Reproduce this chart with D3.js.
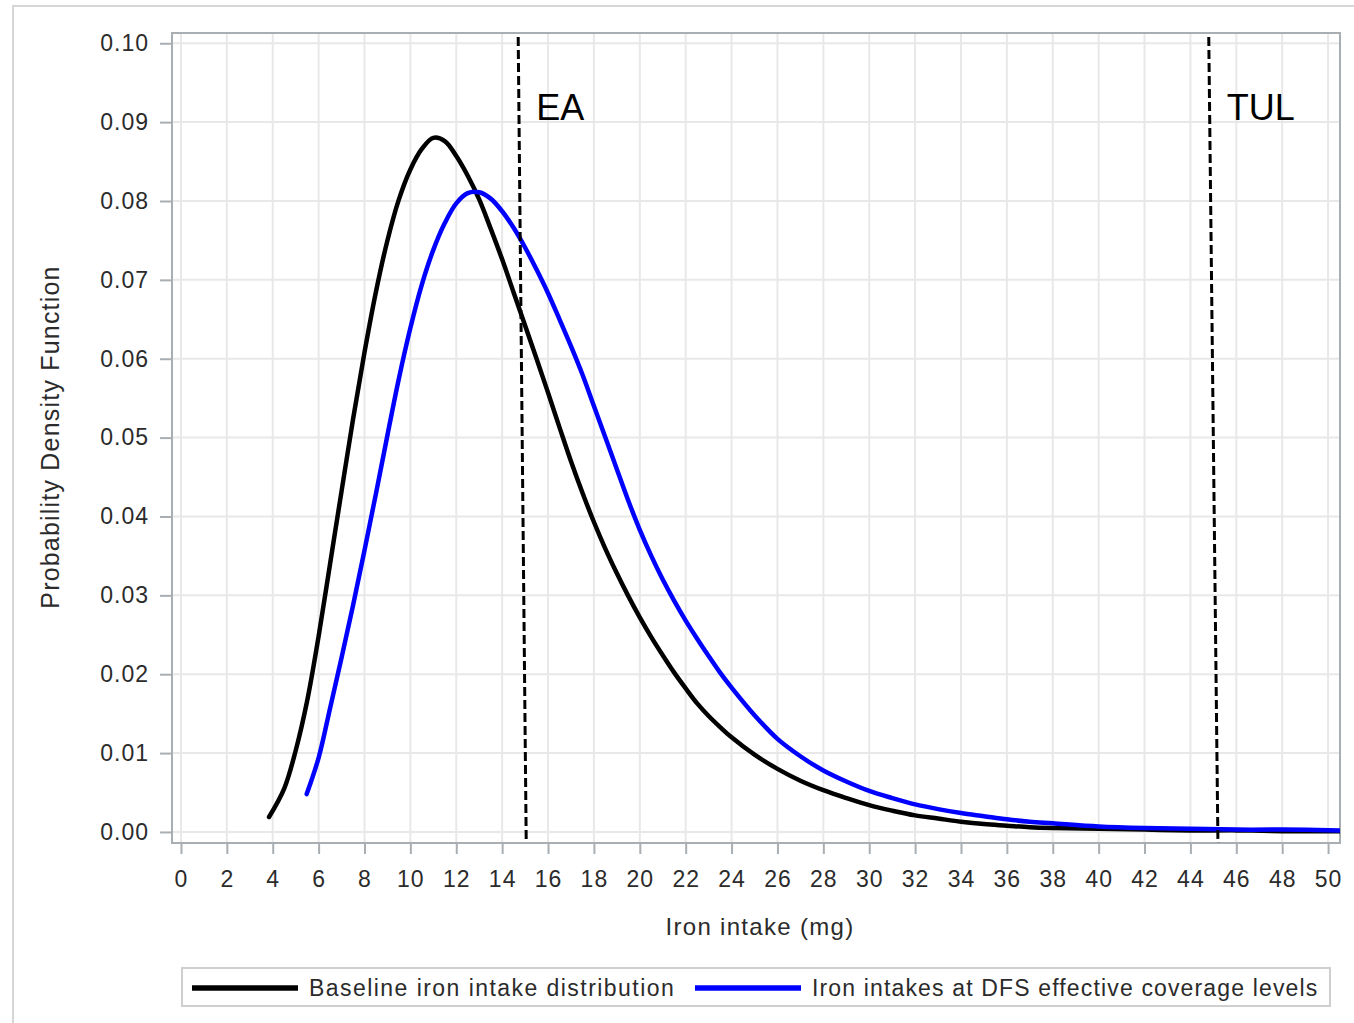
<!DOCTYPE html>
<html>
<head>
<meta charset="utf-8">
<style>
  body { margin: 0; background: #fff; }
  svg text { font-family: "Liberation Sans", Arial, sans-serif; fill: #2b2b2b; }
</style>
</head>
<body>
<div class="chart"></div>
<script src="https://d3js.org/d3.v7.min.js"></script>
<script>
  // 讀圖估的數值 (每 0.5 mg 讀一次，尾巴讀疏一點)
  const baselineX = [3.84, 4.5, 5, 5.5, 6, 6.5, 7, 7.5, 8, 8.5, 9, 9.5, 10, 10.5, 11, 11.5, 12, 12.5, 13, 13.5, 14, 14.5, 15, 15.5, 16, 16.5, 17, 17.5, 18, 18.5, 19, 19.5, 20, 20.5, 21, 21.5, 22, 22.5, 23, 23.5, 24, 25, 26, 27, 28, 29, 30, 31, 32, 33, 34, 35, 36, 37, 38, 40, 42, 44, 46, 48, 50.5]
  const baselineY = [0.0019, 0.0055, 0.0103, 0.0166, 0.0248, 0.0340, 0.0432, 0.0523, 0.0608, 0.0685, 0.0750, 0.0802, 0.0840, 0.0866, 0.0880, 0.0876, 0.0857, 0.0832, 0.0802, 0.0765, 0.0726, 0.0684, 0.0642, 0.0600, 0.0557, 0.0513, 0.0470, 0.0430, 0.0393, 0.0359, 0.0328, 0.0299, 0.0272, 0.0247, 0.0224, 0.0202, 0.0182, 0.0163, 0.0147, 0.0133, 0.0120, 0.0098, 0.0080, 0.0065, 0.0053, 0.0043, 0.0034, 0.0027, 0.0021, 0.0017, 0.0013, 0.0010, 0.0008, 0.0006, 0.0005, 0.0004, 0.0003, 0.0002, 0.0002, 0.0001, 0.0001]

  const dfsX = [5.48, 6, 6.5, 7, 7.5, 8, 8.5, 9, 9.5, 10, 10.5, 11, 11.5, 12, 12.5, 13, 13.5, 14, 14.5, 15, 15.5, 16, 16.5, 17, 17.5, 18, 18.5, 19, 19.5, 20, 20.5, 21, 21.5, 22, 22.5, 23, 23.5, 24, 25, 26, 27, 28, 29, 30, 31, 32, 33, 34, 35, 36, 37, 38, 40, 42, 44, 46, 48, 50.5]
  const dfsY = [0.0048, 0.0094, 0.0157, 0.0221, 0.0287, 0.0357, 0.0429, 0.0503, 0.0575, 0.0639, 0.0694, 0.0738, 0.0772, 0.0797, 0.0810, 0.0811, 0.0803, 0.0787, 0.0766, 0.0741, 0.0713, 0.0683, 0.0650, 0.0616, 0.0580, 0.0540, 0.0500, 0.0460, 0.0420, 0.0383, 0.0350, 0.0320, 0.0293, 0.0268, 0.0245, 0.0223, 0.0202, 0.0183, 0.0148, 0.0118, 0.0096, 0.0078, 0.0064, 0.0052, 0.0043, 0.0035, 0.0029, 0.0024, 0.0020, 0.0016, 0.0013, 0.0011, 0.0007, 0.0005, 0.0004, 0.0003, 0.0003, 0.0002]

  // 參考線 (原圖的虛線有點歪，上下端x不同)
  const refNames = ['EA', 'TUL']
  const refTopX = [14.7, 44.8]
  const refBottomX = [15.05, 45.2]

  const xTicks = [0, 2, 4, 6, 8, 10, 12, 14, 16, 18, 20, 22, 24, 26, 28, 30, 32, 34, 36, 38, 40, 42, 44, 46, 48, 50]
  const yTicks = [0, 0.01, 0.02, 0.03, 0.04, 0.05, 0.06, 0.07, 0.08, 0.09, 0.10]

  const seriesNames = ['Baseline iron intake distribution', 'Iron intakes at DFS effective coverage levels']
  const seriesColors = ['#000000', '#0000ff']

  const svgWidth = 1354, svgHeight = 1023
  const plotLeft = 172, plotRight = 1340, plotTop = 33, plotBottom = 843

  const svg = d3.select('.chart')
                .append('svg')
                .attr('width', svgWidth)
                .attr('height', svgHeight)

  // 外框
  svg.append('rect')
     .attr('x', 13).attr('y', 6)
     .attr('width', svgWidth).attr('height', svgHeight)
     .attr('fill', 'none')
     .attr('stroke', '#d6d6d6')
     .attr('stroke-width', 2)

  const xScale = d3.scaleLinear()
                   .domain([-0.39, 50.52])
                   .range([plotLeft, plotRight])

  const yScale = d3.scaleLinear()
                   .domain([-0.0014, 0.1013])
                   .range([plotBottom, plotTop])

  // 格線
  svg.append('g')
     .selectAll('line')
     .data(xTicks)
     .join('line')
     .attr('x1', d => xScale(d)).attr('x2', d => xScale(d))
     .attr('y1', plotTop).attr('y2', plotBottom)
     .attr('stroke', '#e8e8e8')
     .attr('stroke-width', 2)

  svg.append('g')
     .selectAll('line')
     .data(yTicks)
     .join('line')
     .attr('x1', plotLeft).attr('x2', plotRight)
     .attr('y1', d => yScale(d)).attr('y2', d => yScale(d))
     .attr('stroke', '#e8e8e8')
     .attr('stroke-width', 2)

  // X軸
  const xAxis = d3.axisBottom(xScale)
                  .tickValues(xTicks)
                  .tickSize(11)
                  .tickPadding(17)
                  .tickFormat(d3.format('d'))

  const xAxisGroup = svg.append('g')
                        .attr('transform', `translate(0,${plotBottom})`)
                        .call(xAxis)

  // Y軸
  const yAxis = d3.axisLeft(yScale)
                  .tickValues(yTicks)
                  .tickSize(12)
                  .tickPadding(11)
                  .tickFormat(d3.format('.2f'))

  const yAxisGroup = svg.append('g')
                        .attr('transform', `translate(${plotLeft},0)`)
                        .call(yAxis)

  svg.selectAll('.tick line').attr('stroke', '#a9aeb3').attr('stroke-width', 2)
  svg.selectAll('.domain').remove()
  svg.selectAll('.tick text')
     .attr('font-size', 23)
     .attr('letter-spacing', 1)
     .attr('font-family', '"Liberation Sans", Arial, sans-serif')
     .attr('fill', '#2b2b2b')

  // 繪圖區外框
  svg.append('rect')
     .attr('x', plotLeft).attr('y', plotTop)
     .attr('width', plotRight - plotLeft).attr('height', plotBottom - plotTop)
     .attr('fill', 'none')
     .attr('stroke', '#a9aeb3')
     .attr('stroke-width', 2)

  // 軸標題
  svg.append('text')
     .attr('x', 760)
     .attr('y', 935)
     .attr('text-anchor', 'middle')
     .attr('font-size', 24)
     .attr('letter-spacing', 1.3)
     .text('Iron intake (mg)')

  svg.append('text')
     .attr('transform', 'translate(59,437) rotate(-90)')
     .attr('text-anchor', 'middle')
     .attr('font-size', 25)
     .attr('letter-spacing', 1.2)
     .text('Probability Density Function')

  // clip
  svg.append('defs')
     .append('clipPath')
     .attr('id', 'clip')
     .append('rect')
     .attr('x', plotLeft).attr('y', plotTop)
     .attr('width', plotRight - plotLeft).attr('height', plotBottom - plotTop)

  const line = d3.line()
                 .x(d => xScale(d[0]))
                 .y(d => yScale(d[1]))
                 .curve(d3.curveCatmullRom)

  const curves = [
    d3.zip(baselineX, baselineY),
    d3.zip(dfsX, dfsY)
  ]

  svg.append('g')
     .attr('clip-path', 'url(#clip)')
     .selectAll('path')
     .data(curves)
     .join('path')
     .attr('fill', 'none')
     .attr('stroke', (d, i) => seriesColors[i])
     .attr('stroke-width', 4.5)
     .attr('stroke-linecap', 'round')
     .attr('d', line)

  // 虛線
  svg.append('g')
     .selectAll('line')
     .data(refNames)
     .join('line')
     .attr('x1', (d, i) => xScale(refTopX[i]))
     .attr('x2', (d, i) => xScale(refBottomX[i]))
     .attr('y1', yScale(0.1008))
     .attr('y2', plotBottom)
     .attr('stroke', '#000')
     .attr('stroke-width', 3)
     .attr('stroke-dasharray', '9,4')

  svg.append('g')
     .selectAll('text')
     .data(refNames)
     .join('text')
     .attr('x', (d, i) => xScale(refTopX[i]) + 18)
     .attr('y', 120)
     .attr('font-family', 'Lato, "Open Sans", sans-serif')
     .attr('font-size', 36)
     .style('fill', '#000')
     .text(d => d)

  // 圖例
  const legend = svg.append('g')
  legend.append('rect')
        .attr('x', 182).attr('y', 968)
        .attr('width', 1148).attr('height', 38)
        .attr('fill', 'none')
        .attr('stroke', '#cfcfcf')
        .attr('stroke-width', 2)

  const legendX = [192, 695]
  legend.selectAll('line')
        .data(seriesNames)
        .join('line')
        .attr('x1', (d, i) => legendX[i])
        .attr('x2', (d, i) => legendX[i] + 106)
        .attr('y1', 988).attr('y2', 988)
        .attr('stroke', (d, i) => seriesColors[i])
        .attr('stroke-width', 5.5)

  legend.selectAll('text')
        .data(seriesNames)
        .join('text')
        .attr('x', (d, i) => legendX[i] + 117)
        .attr('y', 996)
        .attr('font-size', 23)
        .attr('letter-spacing', (d, i) => i === 0 ? 1.45 : 1.15)
        .text(d => d)
</script>
</body>
</html>
